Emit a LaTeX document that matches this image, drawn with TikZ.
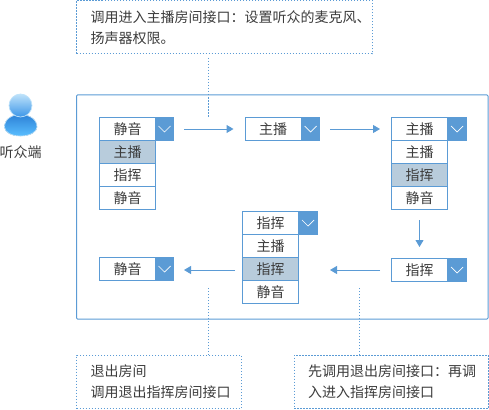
\documentclass[tikz,border=0pt]{standalone}
\usepackage{fontspec}
\setmainfont{Noto Sans CJK SC}
\usetikzlibrary{arrows.meta}
\definecolor{linkblue}{RGB}{91,155,213}
\definecolor{pickgray}{RGB}{184,204,220}
\definecolor{textgray}{RGB}{60,60,60}
\definecolor{skinpale}{RGB}{190,226,250}
\definecolor{skinmid}{RGB}{60,150,232}
\definecolor{skindeep}{RGB}{45,130,215}
\definecolor{skinlight}{RGB}{90,190,255}
\tikzset{
    cell/.style={draw=linkblue, line width=1pt, minimum width=56pt, minimum height=23pt, inner sep=0pt, text=textgray, font=\fontsize{14}{14}\selectfont},
    picked/.style={cell, fill=pickgray},
    dropbtn/.style={draw=linkblue, fill=linkblue, line width=1pt, minimum width=18pt, minimum height=23pt, inner sep=0pt,
        path picture={\draw[white, line width=0.7pt] ([xshift=-6pt,yshift=3pt]path picture bounding box.center) -- ([yshift=-3pt]path picture bounding box.center) -- ([xshift=6pt,yshift=3pt]path picture bounding box.center);}},
    flow/.style={draw=linkblue, line width=1pt, -{Triangle[length=7pt,width=8pt]}},
    noteline/.style={draw=linkblue, line width=1pt, dash pattern=on 1.5pt off 1.5pt},
    notebox/.style={noteline, anchor=north west, outer sep=0pt, minimum height=53.5pt, inner xsep=14pt, inner ysep=0pt, align=left, text=textgray, font=\fontsize{14}{21}\selectfont}
}
\begin{document}
\begin{tikzpicture}[x=1pt,y=-1pt]
    \useasboundingbox (0,0) rectangle (489,409);

    % cadre principal
    \node[draw=linkblue, line width=1pt, rounded corners=1pt, anchor=north west, outer sep=0pt, minimum width=411.5pt, minimum height=224pt, inner sep=0pt] (room) at (76.5,95) {};

    % personnage
    \fill[top color=skindeep, bottom color=skinlight, draw=skinpale, line width=0.7pt] (4.5,127) .. controls (4.5,119) and (12,114.5) .. (20.5,114.5) .. controls (29,114.5) and (37,119) .. (37,127) .. controls (37,132) and (30,136) .. (20.5,136) .. controls (11,136) and (4.5,132) .. (4.5,127);
    \shade[top color=skinpale, bottom color=skinmid, draw=skinpale, line width=0.7pt] (20.5,105.5) circle (11.5);
    \node[text=textgray, font=\fontsize{14}{14}\selectfont] (listener) at (20.5,152) {听众端};

    % premier menu
    \node[cell] (muteA) at (127.5,129) {静音};
    \node[dropbtn] (btnA) at (164.5,129) {};
    \node[picked] (hostA) at (127.5,152) {主播};
    \node[cell] (leadA) at (127.5,175) {指挥};
    \node[cell] (silentA) at (127.5,198) {静音};

    % deuxieme menu
    \node[cell] (hostB) at (273,129) {主播};
    \node[dropbtn] (btnB) at (310.5,129) {};

    % troisieme menu
    \node[cell] (hostC) at (419.5,129) {主播};
    \node[dropbtn] (btnC) at (457,129) {};
    \node[cell] (itemC) at (419.5,152) {主播};
    \node[picked] (leadC) at (419.5,175) {指挥};
    \node[cell] (silentC) at (419.5,198) {静音};

    % quatrieme menu
    \node[cell] (leadD) at (419.5,270) {指挥};
    \node[dropbtn] (btnD) at (457,270) {};

    % cinquieme menu
    \node[cell] (leadE) at (270.5,223) {指挥};
    \node[dropbtn] (btnE) at (308,223) {};
    \node[cell] (hostE) at (270.5,246) {主播};
    \node[picked] (pickE) at (270.5,269) {指挥};
    \node[cell] (silentE) at (270.5,292) {静音};

    % dernier menu
    \node[cell] (muteF) at (127.5,269) {静音};
    \node[dropbtn] (btnF) at (164.5,269) {};

    % fleches
    \draw[flow, shorten <=10pt, shorten >=11pt] (btnA.east) -- (hostB.west);
    \draw[flow, shorten <=10pt, shorten >=11pt] (btnB.east) -- (hostC.west);
    \draw[flow, shorten <=10pt, shorten >=11pt] (silentC.south) -- (leadD.north);
    \draw[flow, shorten <=11pt, shorten >=31pt] (leadD.west) -- (leadD.west -| pickE.east);
    \draw[flow, shorten <=7pt, shorten >=10pt] (pickE.west |- leadD.west) -- (btnF.east |- leadD.west);

    % notes
    \node[notebox, minimum width=295.5pt, text width=267.5pt] (noteEnter) at (76.5,0.5) {调用进入主播房间接口：设置听众的麦克风、\\扬声器权限。};
    \node[notebox, minimum width=164.5pt, text width=136.5pt] (noteExit) at (76.5,355) {退出房间\\调用退出指挥房间接口};
    \node[notebox, minimum width=194pt, text width=166pt] (noteSwitch) at (294,355) {先调用退出房间接口：再调\\入进入指挥房间接口};

    % pointilles
    \coordinate (endEnter) at (208.5,117);
    \coordinate (endExit) at (208.5,287);
    \coordinate (endSwitch) at (359.5,287);
    \draw[noteline, shorten <=4pt] (noteEnter.south -| endEnter) -- (endEnter);
    \draw[noteline] (noteExit.north -| endExit) -- (endExit);
    \draw[noteline] (noteSwitch.north -| endSwitch) -- (endSwitch);
\end{tikzpicture}
\end{document}
